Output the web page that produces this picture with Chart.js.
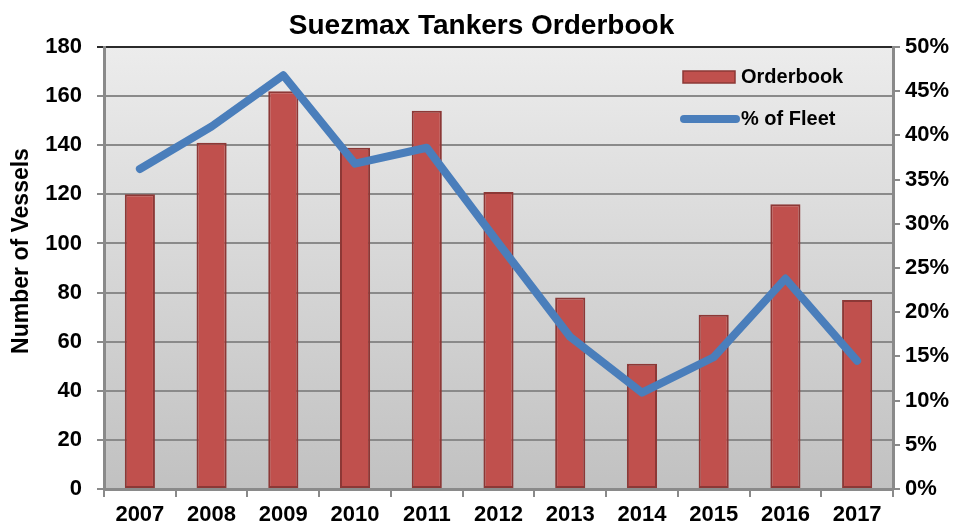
<!DOCTYPE html>
<html>
<head>
<meta charset="utf-8">
<title>Suezmax Tankers Orderbook</title>
<script src="https://cdn.jsdelivr.net/npm/chart.js@4/dist/chart.umd.min.js"></script>
<style>
  html, body { margin: 0; padding: 0; background: #fff; }
  #grafico { display: block; }
</style>
</head>
<body>
<canvas id="grafico" width="963" height="527"></canvas>
<script>
// Dados do gráfico
const anos = ['2007', '2008', '2009', '2010', '2011', '2012', '2013', '2014', '2015', '2016', '2017'];
const orderbook = [120, 141, 162, 139, 154, 121, 78, 51, 71, 116, 77];
const percentFrota = [36.2, 41.0, 46.8, 36.8, 38.6, 27.8, 17.2, 10.9, 14.9, 23.8, 14.5];
const ticksNavios = [0, 20, 40, 60, 80, 100, 120, 140, 160, 180];
const ticksPercent = [0, 5, 10, 15, 20, 25, 30, 35, 40, 45, 50];
const tituloEixoY = 'Number of Vessels';

const fonte = '"Liberation Sans", Arial, sans-serif';
const corGrade = '#8a8a8a';

// Fundo cinza em degradê atrás da área do gráfico
const fundoPlugin = {
    id: 'fundo',
    beforeDraw(chart) {
        const { ctx, chartArea: a } = chart;
        const g = ctx.createLinearGradient(0, a.top, 0, a.bottom);
        g.addColorStop(0, '#ececec');
        g.addColorStop(1, '#c1c1c1');
        ctx.save();
        ctx.fillStyle = g;
        ctx.fillRect(a.left, a.top, a.right - a.left, a.bottom - a.top);
        ctx.restore();
    }
};

// Título do eixo Y (um pouco acima do centro, como no original)
const tituloYPlugin = {
    id: 'tituloY',
    afterDraw(chart) {
        const { ctx, chartArea: a } = chart;
        const escala = chart.scales.y;
        ctx.save();
        ctx.translate(escala.left + 22, (a.top + a.bottom) / 2 - 17);
        ctx.rotate(-Math.PI / 2);
        ctx.font = 'bold 23px ' + fonte;
        ctx.fillStyle = '#000';
        ctx.textAlign = 'center';
        ctx.textBaseline = 'middle';
        ctx.fillText(tituloEixoY, 0, 0);
        ctx.restore();
    }
};

// Legenda desenhada dentro da área do gráfico (canto superior direito)
const legendaPlugin = {
    id: 'legendaInterna',
    afterDraw(chart) {
        const { ctx, chartArea: a } = chart;
        const barra = chart.data.datasets[1];
        const linha = chart.data.datasets[0];
        const xTexto = a.right - 152;
        ctx.save();
        ctx.font = 'bold 20px ' + fonte;
        ctx.textBaseline = 'middle';

        // Orderbook
        ctx.fillStyle = barra.backgroundColor;
        ctx.fillRect(a.right - 210, a.top + 24, 52, 12);
        ctx.strokeStyle = barra.borderColor;
        ctx.lineWidth = 1.5;
        ctx.strokeRect(a.right - 210, a.top + 24, 52, 12);
        ctx.fillStyle = '#000';
        ctx.fillText(barra.label, xTexto, a.top + 30);

        // % of Fleet
        ctx.strokeStyle = linha.borderColor;
        ctx.lineWidth = 8;
        ctx.lineCap = 'round';
        ctx.beginPath();
        ctx.moveTo(a.right - 209, a.top + 72);
        ctx.lineTo(a.right - 157, a.top + 72);
        ctx.stroke();
        ctx.fillText(linha.label, xTexto, a.top + 72);
        ctx.restore();
    }
};

const ctx = document.getElementById('grafico').getContext('2d');
new Chart(ctx, {
    type: 'bar',
    data: {
        labels: anos,
        datasets: [{
            type: 'line',
            label: '% of Fleet',
            data: percentFrota,
            yAxisID: 'y1',
            borderColor: '#4a7ebb',
            borderWidth: 8,
            pointRadius: 0,
            borderCapStyle: 'round',
            borderJoinStyle: 'round',
            tension: 0,
            order: 0
        }, {
            type: 'bar',
            label: 'Orderbook',
            data: orderbook,
            yAxisID: 'y',
            backgroundColor: '#c0504d',
            borderColor: '#8c3836',
            borderWidth: 2,
            borderSkipped: false,
            barPercentage: 0.42,
            categoryPercentage: 1,
            order: 1
        }]
    },
    options: {
        responsive: false,
        animation: false,
        layout: { padding: 0 },
        plugins: {
            legend: { display: false },
            tooltip: { enabled: false },
            title: {
                display: true,
                text: 'Suezmax Tankers Orderbook',
                color: '#000',
                font: { family: fonte, size: 28, weight: 'bold' },
                padding: { top: 9, bottom: 4.4 }
            }
        },
        scales: {
            x: {
                grid: {
                    offset: true,
                    drawOnChartArea: false,
                    drawTicks: true,
                    tickLength: 8,
                    color: corGrade,
                    lineWidth: 2
                },
                border: { color: corGrade, width: 3 },
                ticks: {
                    color: '#000',
                    padding: 5,
                    font: { family: fonte, size: 22, weight: 'bold' }
                },
                afterFit(scale) { scale.height = 38; }
            },
            y: {
                position: 'left',
                min: 0,
                max: 180,
                afterBuildTicks(scale) { scale.ticks = ticksNavios.map(v => ({ value: v })); },
                grid: {
                    color: (c) => c.tick && c.tick.value === 180 ? '#2a2a2a' : corGrade,
                    lineWidth: 2,
                    tickLength: 7
                },
                border: { color: corGrade, width: 3 },
                ticks: {
                    color: '#000',
                    padding: 15,
                    font: { family: fonte, size: 22, weight: 'bold' }
                },
                afterFit(scale) { scale.width = 104; }
            },
            y1: {
                position: 'right',
                min: 0,
                max: 50,
                afterBuildTicks(scale) { scale.ticks = ticksPercent.map(v => ({ value: v })); },
                grid: {
                    drawOnChartArea: false,
                    color: corGrade,
                    lineWidth: 2,
                    tickLength: 7
                },
                border: { color: corGrade, width: 3 },
                ticks: {
                    color: '#000',
                    padding: 5,
                    font: { family: fonte, size: 22, weight: 'bold' },
                    callback: (v) => v + '%'
                },
                afterFit(scale) { scale.width = 70; }
            }
        }
    },
    plugins: [fundoPlugin, tituloYPlugin, legendaPlugin]
});
</script>
</body>
</html>
